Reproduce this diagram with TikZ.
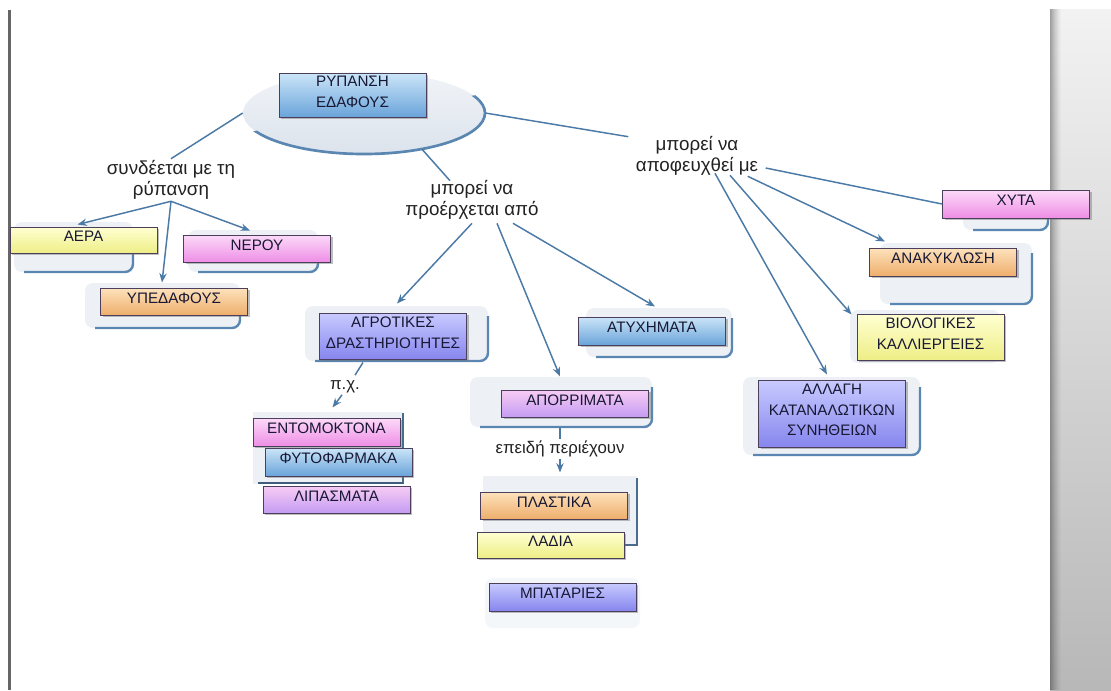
\documentclass[tikz,border=0pt]{standalone}
\usepackage{fontspec}
\setmainfont{Liberation Sans}
\usetikzlibrary{shapes.geometric,arrows.meta,shadows,calc}
\definecolor{boxline}{HTML}{4B3F5C}
\definecolor{boxtext}{HTML}{181834}
\definecolor{labtext}{HTML}{222222}
\definecolor{connc}{HTML}{4C7AA6}
\definecolor{rimc}{HTML}{5A86B2}
\definecolor{bgfillc}{HTML}{EDF1F5}
\definecolor{ellT}{HTML}{F1F4F8}
\definecolor{ellB}{HTML}{DCE3EC}
\definecolor{yelT}{HTML}{FFFFD2}
\definecolor{yelB}{HTML}{EEEE86}
\definecolor{pinkT}{HTML}{FCDAF8}
\definecolor{pinkB}{HTML}{EE8EE6}
\definecolor{oraT}{HTML}{FDE2BC}
\definecolor{oraB}{HTML}{EEAE6C}
\definecolor{bluT}{HTML}{CBE5F8}
\definecolor{bluB}{HTML}{6AA4DA}
\definecolor{perT}{HTML}{C8CAFF}
\definecolor{perB}{HTML}{8686EE}
\definecolor{lilT}{HTML}{F8CCF4}
\definecolor{lilB}{HTML}{C49CF2}
\newcommand{\cmboxfont}{\fontsize{11.4}{15.4}\selectfont}
\newcommand{\cmlabfont}{\fontsize{14.1}{16}\selectfont}
\newcommand{\cmsmallfont}{\fontsize{12.6}{14}\selectfont}
\newcommand{\bgshape}[4]{%
  \fill[bgfillc, rounded corners=6pt] (#1,#2) rectangle (#3,#4);
  \draw[rimc, line width=1.8pt, rounded corners=6pt] (#1+10,#4) -- (#3,#4) -- (#3,#2+10);}
\begin{document}
\begin{tikzpicture}[x=0.75pt,y=-0.75pt,
  cbox/.style={draw=boxline, line width=0.75pt, minimum width=110.25pt, inner sep=0pt,
    align=center, font=\cmboxfont, text=boxtext, text depth=5pt,
    drop shadow={shadow xshift=1.8pt, shadow yshift=-1.8pt, fill=black!55, opacity=0.45}},
  yel/.style={cbox, top color=yelT, bottom color=yelB},
  pnk/.style={cbox, top color=pinkT, bottom color=pinkB},
  ora/.style={cbox, top color=oraT, bottom color=oraB},
  blu/.style={cbox, top color=bluT, bottom color=bluB},
  per/.style={cbox, top color=perT, bottom color=perB},
  lil/.style={cbox, top color=lilT, bottom color=lilB},
  lab/.style={align=center, font=\cmlabfont, text=labtext, inner sep=1pt},
  slab/.style={align=center, font=\cmsmallfont, text=labtext, inner sep=1pt},
  conn/.style={draw=connc, line width=1.1pt},
  arr/.style={conn, -{Stealth[length=7pt,width=5.5pt]}}]
\useasboundingbox (0,0) rectangle (1111,690);
\fill[white] (0,0) rectangle (1111,690);
% right panel
\shade[top color=black!5, bottom color=black!28] (1050,9) rectangle (1111,690);
\foreach \xi/\op in {0/0.34,1/0.30,2/0.26,3/0.22,4/0.18,5/0.15,6/0.12,7/0.09,8/0.06,9/0.04,10/0.02}{
  \fill[black, opacity=\op] (1050+\xi,9) rectangle (1051+\xi,690);}
% left line
\draw[black!60, line width=2pt] (9.5,10) -- (9.5,690);

% background shapes
\bgshape{14}{222}{133}{272}
\bgshape{188}{230}{318}{272}
\bgshape{85}{283}{240}{328}
\bgshape{305}{306}{488}{361}
\bgshape{586}{308}{732}{357}
\bgshape{470}{377}{652}{427}
\bgshape{963}{195}{1048}{230}
\bgshape{880}{243}{1032}{304}
\bgshape{743}{377}{920}{455}
\fill[bgfillc, rounded corners=6pt] (850,310) rectangle (1000,363);
\fill[bgfillc!60, rounded corners=6pt] (485,578) rectangle (640,628);
% group shapes
\fill[bgfillc] (253,412) rectangle (403,484);
\draw[rimc!80!black, line width=1.5pt] (403,413) -- (403,484);
\draw[rimc!70!black, line width=1.5pt] (258,483) -- (403,483);
\fill[bgfillc] (483,476) rectangle (637,545);
\draw[rimc!80!black, line width=1.5pt] (637,478) -- (637,545) -- (624,545);

% central ellipse
\node[ellipse, minimum width=181.5pt, minimum height=61.5pt, inner sep=0pt,
  top color=ellT, bottom color=ellB] (ell) at (364,113) {};
\begin{scope}
  \clip (230,135) -- (495,92) -- (495,170) -- (230,170) -- cycle;
  \draw[rimc, line width=2pt] (ell.center) ellipse [x radius=90.75pt, y radius=30.75pt];
\end{scope}

% concept boxes
\node[blu, minimum height=33pt] (rypansi) at (352.5,95) {ΡΥΠΑΝΣΗ\\ΕΔΑΦΟΥΣ};
\node[yel, minimum height=19.5pt] (aera) at (83.5,240) {ΑΕΡΑ};
\node[pnk, minimum height=20.25pt] (nerou) at (257,248.5) {ΝΕΡΟΥ};
\node[ora, minimum height=20.25pt] (ypedafous) at (174,301.5) {ΥΠΕΔΑΦΟΥΣ};
\node[per, minimum height=34.5pt] (agrotikes) at (393,336) {ΑΓΡΟΤΙΚΕΣ\\ΔΡΑΣΤΗΡΙΟΤΗΤΕΣ};
\node[blu, minimum height=21pt] (atyximata) at (652,331) {ΑΤΥΧΗΜΑΤΑ};
\node[lil, minimum height=20.25pt] (aporrimata) at (575,403.5) {ΑΠΟΡΡΙΜΑΤΑ};
\node[pnk, minimum height=21pt] (entomoktona) at (326.5,432) {ΕΝΤΟΜΟΚΤΟΝΑ};
\node[blu, minimum height=21pt] (fytofarmaka) at (338.5,462) {ΦΥΤΟΦΑΡΜΑΚΑ};
\node[lil, minimum height=20.25pt] (lipasmata) at (336.5,499.5) {ΛΙΠΑΣΜΑΤΑ};
\node[ora, minimum height=20.25pt] (plastika) at (554,505.5) {ΠΛΑΣΤΙΚΑ};
\node[yel, minimum height=19.5pt] (ladia) at (550.5,545) {ΛΑΔΙΑ};
\node[per, minimum height=21pt] (mpataries) at (562.5,597) {ΜΠΑΤΑΡΙΕΣ};
\node[pnk, minimum height=21pt] (xyta) at (1016,204) {ΧΥΤΑ};
\node[ora, minimum height=21pt] (anakyklosi) at (943,262) {ΑΝΑΚΥΚΛΩΣΗ};
\node[yel, minimum height=34.5pt] (viologikes) at (930.5,337) {ΒΙΟΛΟΓΙΚΕΣ\\ΚΑΛΛΙΕΡΓΕΙΕΣ};
\node[per, minimum height=50.25pt] (allagi) at (832,413.5) {ΑΛΛΑΓΗ\\ΚΑΤΑΝΑΛΩΤΙΚΩΝ\\ΣΥΝΗΘΕΙΩΝ};

% linking phrases
\node[lab] (l1) at (171,180) {συνδέεται με τη\\ρύπανση};
\node[lab] (l2) at (472,200) {μπορεί να\\προέρχεται από};
\node[lab] (l3) at (697,156) {μπορεί να\\αποφευχθεί με};
\node[slab] (l4) at (345,387) {π.χ.};
\node[slab] (l5) at (560,449) {επειδή περιέχουν};

% connectors
\draw[conn] (ell.west) -- (l1.north);
\draw[conn] (ell.-32) -- ($(l2.north)+(-22,2)$);
\draw[conn] (ell.east) -- ($(l3.north west)+(-6,2)$);
\draw[arr] (l1.south) -- ($(aera.north)+(-6,-2)$);
\draw[arr] (l1.south) -- ($(nerou.north)+(-7,-4)$);
\draw[arr] (l1.south) -- ($(ypedafous.north)+(-12,-5)$);
\draw[arr] ($(l2.south)+(0,2)$) -- ($(agrotikes.north)+(4,-9)$);
\draw[arr] ($(l2.south)+(25,2)$) -- ($(aporrimata.north)+(-15,-13)$);
\draw[arr] ($(l2.south)+(41,2)$) -- ($(atyximata.north)+(3,-10)$);
\draw[conn] ($(l3.east)+(6,12)$) -- (xyta.west);
\draw[arr] ($(l3.south east)+(-12,-1)$) -- ($(anakyklosi.north)+(-58,-6)$);
\draw[arr] ($(l3.south)+(33,-2)$) -- ($(viologikes.north west)+(-5,1)$);
\draw[arr] ($(l3.south)+(18,-4)$) -- ($(allagi.north)+(-5,-5)$);
\draw[conn] ($(agrotikes.south)+(-30,3)$) -- ($(l4.north)+(10,-4)$);
\draw[arr] ($(l4.south)+(-3,0)$) -- ($(entomoktona.north)+(6,-10)$);
\draw[conn] ($(aporrimata.south)+(-15,10)$) -- (l5.north);
\draw[arr] (l5.south) -- ($(plastika.north)+(6,-19)$);
\end{tikzpicture}
\end{document}
